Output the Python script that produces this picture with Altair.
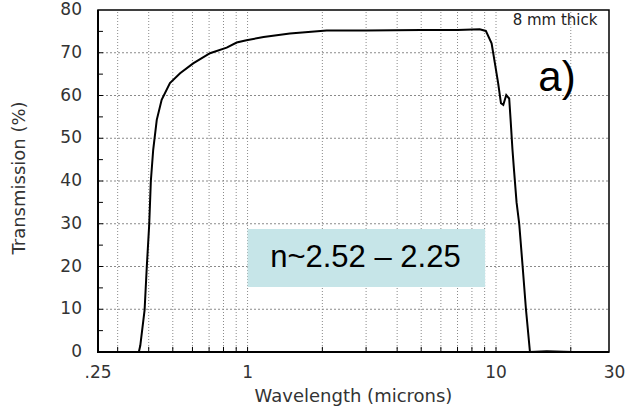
import altair as alt
import pandas as pd

# ---- data ----
wavelength = [0.30, 0.365, 0.37, 0.385, 0.393, 0.402, 0.408, 0.417, 0.431, 0.451,
              0.487, 0.535, 0.604, 0.706, 0.824, 0.904, 0.99, 1.16, 1.48, 2.08,
              3.0, 5.0, 7.0, 8.6, 9.1, 9.6, 9.9, 10.2, 10.47, 10.7,
              11.0, 11.3, 11.45, 11.65, 11.8, 12.1, 12.4, 12.8, 13.2, 13.7,
              16.0, 20.3]
transmission = [0, 0, 1.5, 9.8, 20, 30, 40, 47.3, 54.3, 59,
                62.9, 65.2, 67.5, 69.9, 71.2, 72.4, 72.9, 73.7, 74.5, 75.2,
                75.2, 75.3, 75.3, 75.5, 75.1, 72.2, 67.5, 62.9, 58.2, 57.8,
                60.1, 59.3, 54.3, 47.3, 43, 35, 30, 20, 10, 0,
                0.2, 0]

x_grid = [0.3, 0.4, 0.5, 0.6, 0.7, 0.8, 0.9, 1, 2, 3, 4, 5, 6, 7, 8, 9, 10, 20]
y_grid = [10, 20, 30, 40, 50, 60, 70]
y_minor = [5, 10, 15, 20, 25, 30, 35, 40, 45, 50, 55, 60, 65, 70, 75]
x_labels = [0.25, 1, 10, 30]
x_label_text = [".25", "1", "10", "30"]
y_labels = [0, 10, 20, 30, 40, 50, 60, 70, 80]
y_label_text = [str(v) for v in y_labels]
x_title = ["Wavelength (microns)"]
y_title = ["Transmission (%)"]

box_x = [1.0]
box_x2 = [9.04]
box_y = [15.2]
box_y2 = [28.8]
box_text = ["n~2.52 \u2013 2.25"]
box_text_x = [2.98]
box_text_y = [22.0]

note_text = ["8 mm thick"]
note_x = [25.6]
note_y = [76.5]
panel_text = ["a)"]
panel_x = [17.6]
panel_y = [61.0]

X_DOMAIN = [0.25, 28.5]
Y_DOMAIN = [0, 80]
W, H = 511, 342
TICK_Y = 1.2      # inward tick length in y units (~5 px)
TICK_X = 1.047    # inward tick length as x factor on log scale (~5 px)
LABEL_FONT = "DejaVu Sans"
LABEL_COLOR = "#333"

xscale = alt.Scale(type="log", domain=X_DOMAIN, nice=False)
yscale = alt.Scale(domain=Y_DOMAIN, nice=False, zero=False)


def X(field="w"):
    return alt.X(f"{field}:Q", scale=xscale, axis=None)


def Y(field="t"):
    return alt.Y(f"{field}:Q", scale=yscale, axis=None)


def segments(pairs):
    rows = []
    for k, ((w1, t1), (w2, t2)) in enumerate(pairs):
        rows.append({"w": w1, "t": t1, "k": k, "o": 0})
        rows.append({"w": w2, "t": t2, "k": k, "o": 1})
    return pd.DataFrame(rows)


vgrid_df = segments([((g, Y_DOMAIN[0]), (g, Y_DOMAIN[1])) for g in x_grid])
hgrid_df = segments([((X_DOMAIN[0], g), (X_DOMAIN[1], g)) for g in y_grid])
xtick_df = segments([((g, 0), (g, TICK_Y)) for g in x_grid])
ytick_df = segments([((X_DOMAIN[0], g), (X_DOMAIN[0] * TICK_X, g)) for g in y_minor])

curve = pd.DataFrame({"w": wavelength, "t": transmission})


def seg_chart(df, color, dash=None, width=1):
    kw = dict(color=color, strokeWidth=width)
    if dash:
        kw["strokeDash"] = dash
    return alt.Chart(df).mark_line(**kw).encode(
        x=X(), y=Y(), detail="k:N", order="o:Q")


vgrid = seg_chart(vgrid_df, "#8a8a8a", [1, 2])
hgrid = seg_chart(hgrid_df, "#8a8a8a", [2, 2])
xticks = seg_chart(xtick_df, "black")
yticks = seg_chart(ytick_df, "black")

box = alt.Chart(pd.DataFrame({"w": box_x, "w2": box_x2, "t": box_y, "t2": box_y2})).mark_rect(
    color="#c6e5e8").encode(x=X(), x2="w2:Q", y=Y(), y2="t2:Q")

box_label = alt.Chart(pd.DataFrame({"w": box_text_x, "t": box_text_y, "s": box_text})).mark_text(
    font="Liberation Sans", fontSize=31, color="black", align="center", baseline="middle").encode(
    x=X(), y=Y(), text="s:N")

frame_df = pd.DataFrame({"w": [X_DOMAIN[0], X_DOMAIN[0], X_DOMAIN[1]],
                         "t": [Y_DOMAIN[1], Y_DOMAIN[0], Y_DOMAIN[0]],
                         "o": [0, 1, 2]})
frame = alt.Chart(frame_df).mark_line(color="black", strokeWidth=2).encode(
    x=X(), y=Y(), order="o:Q")

line = alt.Chart(curve).mark_line(color="black", strokeWidth=2).encode(x=X(), y=Y())

ylab = alt.Chart(pd.DataFrame({"t": y_labels, "s": y_label_text})).mark_text(
    font=LABEL_FONT, fontSize=17, color=LABEL_COLOR, align="right", baseline="middle").encode(
    y=Y(), x=alt.value(-16), text="s:N")

xlab = alt.Chart(pd.DataFrame({"w": x_labels, "s": x_label_text})).mark_text(
    font=LABEL_FONT, fontSize=17, color=LABEL_COLOR, align="center", baseline="middle").encode(
    x=X(), y=alt.value(H + 21), text="s:N")

xtitle = alt.Chart(pd.DataFrame({"s": x_title})).mark_text(
    font=LABEL_FONT, fontSize=18, color=LABEL_COLOR, align="center", baseline="alphabetic").encode(
    x=alt.value(W / 2), y=alt.value(H + 50), text="s:N")

ytitle = alt.Chart(pd.DataFrame({"s": y_title})).mark_text(
    font=LABEL_FONT, fontSize=18, color=LABEL_COLOR, align="center", baseline="middle",
    angle=270).encode(
    x=alt.value(-78), y=alt.value(H / 2 - 3), text="s:N")

note = alt.Chart(pd.DataFrame({"w": note_x, "t": note_y, "s": note_text})).mark_text(
    font="DejaVu Sans", fontSize=15, color="#222", align="right", baseline="alphabetic").encode(
    x=X(), y=Y(), text="s:N")

panel = alt.Chart(pd.DataFrame({"w": panel_x, "t": panel_y, "s": panel_text})).mark_text(
    font="Liberation Sans", fontSize=42, color="black", align="center", baseline="alphabetic").encode(
    x=X(), y=Y(), text="s:N")

chart = alt.layer(vgrid, hgrid, box, box_label, xticks, yticks, frame,
                  line, ylab, xlab, xtitle, ytitle, note, panel).properties(
    width=W, height=H,
    autosize=alt.AutoSizeParams(type="none"),
    padding={"left": 98, "top": 10, "right": 17, "bottom": 64},
    background="white",
).configure_view(
    stroke="black", strokeWidth=1.5
)

chart.save("out.html", embed_options={"renderer": "svg", "actions": False})
